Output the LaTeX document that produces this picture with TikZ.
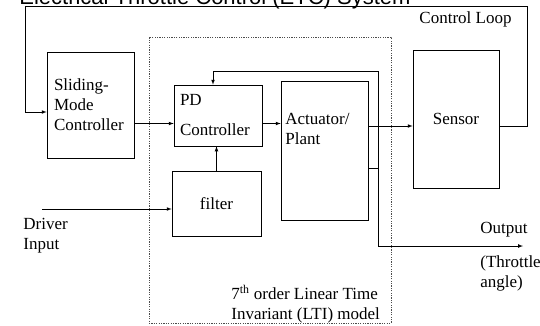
\documentclass[tikz,border=0pt]{standalone}
\usepackage{fontspec}
\setmainfont{Liberation Serif}
\newfontfamily\headfont{Liberation Sans}
\usetikzlibrary{positioning}

\begin{document}
\begin{tikzpicture}[x=1pt, y=-1pt, line width=0.7pt, >=latex,
    blk/.style={draw, inner sep=0pt, font=\fontsize{17}{20}\selectfont},
    txt/.style={inner sep=0pt, align=left, font=\fontsize{17}{20}\selectfont},
    ltibox/.style={draw=black!70, dash pattern=on 1.2pt off 1.2pt, line width=0.6pt, inner sep=0pt}]
        \useasboundingbox (0,0) rectangle (540,325);

        % Title (runs off the top edge)
        \node[anchor=base west, inner sep=0pt, font=\headfont\fontsize{22}{24}\selectfont] (title) at (19,4.5) {Electrical Throttle Control (ETC) System};

        % LTI model frame
        \node[ltibox, minimum width=242pt, minimum height=286pt] (lti) at (270,180) {};

        % Blocks
        \node[blk, minimum width=87pt, minimum height=106pt, text width=73pt, align=left] (smc) at (90.5,105) {Sliding-\\Mode\\Controller};
        \node[blk, minimum width=88pt, minimum height=61pt, text width=76pt, align=left] (pd) at (218,115.5) {PD\\[10pt]Controller};
        \node[blk, minimum width=89pt, minimum height=65pt] (filter) at (216.5,203.5) {filter};
        \node[blk, minimum width=87pt, minimum height=139pt] (act) at (324.5,150.5) {};
        \node[txt, anchor=west] (acttxt) at (285,128.5) {Actuator/\\Plant};
        \node[blk, minimum width=86pt, minimum height=138pt] (sensor) at (456,119) {Sensor};

        % Helper points
        \coordinate (pdin) at ([yshift=-8pt]pd.west);
        \coordinate (smcin) at ([yshift=-7pt]smc.west);
        \coordinate (sig) at ([yshift=24.5pt]act.east);
        \coordinate (actout) at ([yshift=-17.5pt]act.east);
        \coordinate (tapT) at (378,71);
        \coordinate (tapB) at (378,246);
        \coordinate (lpR) at (527,6);
        \coordinate (lpL) at (25,6);
        \coordinate (drv) at (42,209);
        \coordinate (outR) at (523,246);

        % Forward path
        \draw[->] (smc.east |- pdin) -- (pdin);
        \draw[->] (pd.east |- pdin) -- (act.west |- pdin);
        \draw[->] (filter.north) -- (filter.north |- pd.south);
        \draw[->] (drv) -- (drv -| filter.west);
        \draw[->] (sig) -- (sig -| sensor.west);

        % Inner feedback and output
        \draw (actout) -- (actout -| tapT);
        \draw (tapB) -- (tapT);
        \draw[->] (tapT) -| ([xshift=-5pt]pd.north);
        \draw[->] (tapB) -- (outR);

        % Outer control loop
        \draw[->] (sig -| sensor.east) -| (lpR) -- (lpL) |- (smcin);

        % Labels
        \node[txt] (looplbl) at (465.5,19) {Control Loop};
        \node[txt, anchor=west] (drvlbl) at (23,235.5) {Driver\\Input};
        \node[txt, anchor=west] (outlbl) at (480,230) {Output};
        \node[txt, anchor=west] (anglbl) at (480,273) {(Throttle\\angle)};
        \node[txt, anchor=west] (ltilbl) at (231,304.5) {7\textsuperscript{th} order Linear Time\\Invariant (LTI) model};
    \end{tikzpicture}
\end{document}
